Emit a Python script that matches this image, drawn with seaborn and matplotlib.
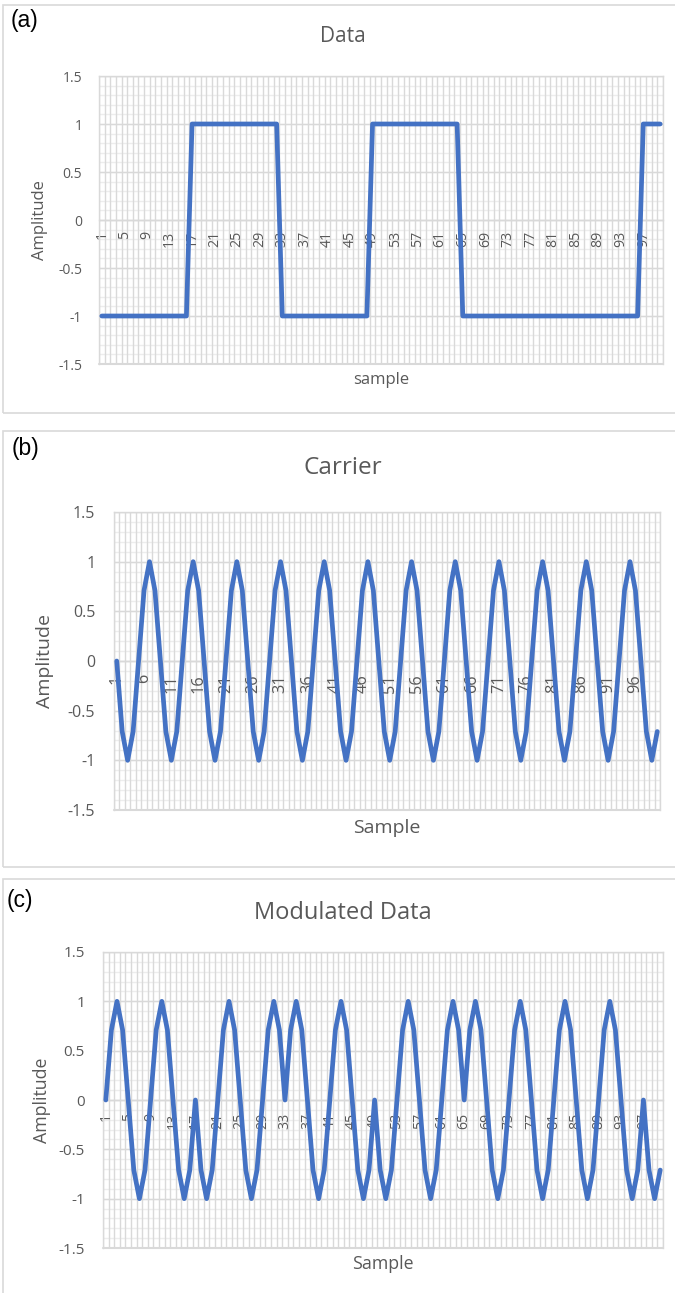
import numpy as np
import pandas as pd
import matplotlib
matplotlib.use("Agg")
import matplotlib.pyplot as plt
from matplotlib.patches import Rectangle
import seaborn as sns

sns.set_theme(style="white")
plt.rcParams['font.family'] = ['Open Sans', 'DejaVu Sans']

# ---------------- 数据 ----------------
sample = list(range(1, 101))

data = [
    -1, -1, -1, -1, -1, -1, -1, -1,
    -1, -1, -1, -1, -1, -1, -1, -1,
    1, 1, 1, 1, 1, 1, 1, 1,
    1, 1, 1, 1, 1, 1, 1, 1,
    -1, -1, -1, -1, -1, -1, -1, -1,
    -1, -1, -1, -1, -1, -1, -1, -1,
    1, 1, 1, 1, 1, 1, 1, 1,
    1, 1, 1, 1, 1, 1, 1, 1,
    -1, -1, -1, -1, -1, -1, -1, -1,
    -1, -1, -1, -1, -1, -1, -1, -1,
    -1, -1, -1, -1, -1, -1, -1, -1,
    -1, -1, -1, -1, -1, -1, -1, -1,
    1, 1, 1, 1,
]

carrier = [
    0, -0.71, -1, -0.71, 0, 0.71, 1, 0.71,
    0, -0.71, -1, -0.71, 0, 0.71, 1, 0.71,
    0, -0.71, -1, -0.71, 0, 0.71, 1, 0.71,
    0, -0.71, -1, -0.71, 0, 0.71, 1, 0.71,
    0, -0.71, -1, -0.71, 0, 0.71, 1, 0.71,
    0, -0.71, -1, -0.71, 0, 0.71, 1, 0.71,
    0, -0.71, -1, -0.71, 0, 0.71, 1, 0.71,
    0, -0.71, -1, -0.71, 0, 0.71, 1, 0.71,
    0, -0.71, -1, -0.71, 0, 0.71, 1, 0.71,
    0, -0.71, -1, -0.71, 0, 0.71, 1, 0.71,
    0, -0.71, -1, -0.71, 0, 0.71, 1, 0.71,
    0, -0.71, -1, -0.71, 0, 0.71, 1, 0.71,
    0, -0.71, -1, -0.71,
]

modulated = [
    0, 0.71, 1, 0.71, 0, -0.71, -1, -0.71,
    0, 0.71, 1, 0.71, 0, -0.71, -1, -0.71,
    0, -0.71, -1, -0.71, 0, 0.71, 1, 0.71,
    0, -0.71, -1, -0.71, 0, 0.71, 1, 0.71,
    0, 0.71, 1, 0.71, 0, -0.71, -1, -0.71,
    0, 0.71, 1, 0.71, 0, -0.71, -1, -0.71,
    0, -0.71, -1, -0.71, 0, 0.71, 1, 0.71,
    0, -0.71, -1, -0.71, 0, 0.71, 1, 0.71,
    0, 0.71, 1, 0.71, 0, -0.71, -1, -0.71,
    0, 0.71, 1, 0.71, 0, -0.71, -1, -0.71,
    0, 0.71, 1, 0.71, 0, -0.71, -1, -0.71,
    0, 0.71, 1, 0.71, 0, -0.71, -1, -0.71,
    0, -0.71, -1, -0.71,
]

y_ticks = [-1.5, -1, -0.5, 0, 0.5, 1, 1.5]
y_tick_labels = ['-1.5', '-1', '-0.5', '0', '0.5', '1', '1.5']

# ---------------- 样式 ----------------
W, H = 675, 1293
BLUE = '#4472C4'
GREY_TXT = '#595959'
GRID = '#D9D9D9'
GRID_MINOR = '#EDEDED'

fig = plt.figure(figsize=(W / 100, H / 100), dpi=100)


def px_axes(left, top, right, bottom):
    return fig.add_axes([left / W, 1 - bottom / H, (right - left) / W, (bottom - top) / H])


def chart_box(top, bottom):
    fig.patches.append(Rectangle((3 / W, 1 - bottom / H), (W + 10) / W, (bottom - top) / H,
                                 transform=fig.transFigure, fill=False,
                                 edgecolor=GRID, linewidth=1.2))


def draw_panel(ax, values, step, title, title_y, xlabel, letter, letter_xy,
               fs_tick, fs_xtick, fs_lab, fs_title, ytick_pad, xtick_pad,
               xlab_y, ylab_x):
    df = pd.DataFrame({'sample': sample, 'value': values})
    sns.lineplot(data=df, x='sample', y='value', ax=ax, color=BLUE, linewidth=3.4,
                 solid_joinstyle='round', solid_capstyle='round', zorder=5)

    # 横轴标签放在 y=0 处 (先移动 spine, 否则会重置刻度)
    for side in ['left', 'right', 'top', 'bottom']:
        ax.spines[side].set_color(GRID)
        ax.spines[side].set_linewidth(1.0)
    ax.spines['bottom'].set_position(('data', 0))

    ax.set_xlim(0.5, 100.5)
    ax.set_ylim(-1.5, 1.5)
    ax.set_yticks(y_ticks)
    ax.set_yticklabels(y_tick_labels)
    ax.set_xticks(sample[::step])
    ax.set_xticklabels([str(s) for s in sample[::step]])

    # 网格线放在刻度标签下面
    ax.grid(False)
    ax.set_axisbelow(True)
    minor_y = np.round(np.arange(-1.5, 1.51, 0.1), 2)
    ax.hlines(minor_y, 0.5, 100.5, color=GRID_MINOR, linewidth=1.0, zorder=0.1)
    ax.hlines(y_ticks, 0.5, 100.5, color=GRID, linewidth=1.0, zorder=0.2)
    bounds = [s - 0.5 for s in sample] + [100.5]
    ax.vlines(bounds, -1.5, 1.5, color=GRID, linewidth=1.0, zorder=0.2)

    ax.tick_params(axis='both', which='both', length=0)
    ax.tick_params(axis='y', labelsize=fs_tick, labelcolor=GREY_TXT, pad=ytick_pad)
    ax.tick_params(axis='x', labelsize=fs_xtick, labelcolor=GREY_TXT, pad=xtick_pad,
                   labelrotation=90)
    ax.axhline(-1.5, color=GRID, linewidth=1.5, clip_on=False, zorder=1)

    ax.set_xlabel(xlabel, fontsize=fs_lab, color=GREY_TXT, va='center')
    ax.xaxis.set_label_coords(0.5, xlab_y)
    ax.set_ylabel('Amplitude', fontsize=fs_lab, color=GREY_TXT, va='center')
    ax.yaxis.set_label_coords(ylab_x, 0.5)

    fig.text(343 / W, 1 - title_y / H, title, ha='center', va='center',
             fontsize=fs_title, color=GREY_TXT)
    fig.text(letter_xy[0] / W, 1 - letter_xy[1] / H, letter, ha='left', va='center',
             fontsize=16.5, color='black', family=['Liberation Sans', 'DejaVu Sans'])


# (a) Data
chart_box(5, 413)
ax_a = px_axes(99, 76, 663, 364)
draw_panel(ax_a, data, 4, 'Data', 37, 'sample', '(a)', (11, 21),
           fs_tick=10, fs_xtick=10.2, fs_lab=12, fs_title=15,
           ytick_pad=12, xtick_pad=8, xlab_y=-0.056, ylab_x=-0.105)

# (b) Carrier
chart_box(431, 867)
ax_b = px_axes(114, 512, 660, 810)
draw_panel(ax_b, carrier, 5, 'Carrier', 468, 'Sample', '(b)', (12, 449),
           fs_tick=11.5, fs_xtick=11.8, fs_lab=14, fs_title=17.5,
           ytick_pad=13.5, xtick_pad=9.5, xlab_y=-0.06, ylab_x=-0.126)

# (c) Modulated Data
chart_box(879, 1310)
ax_c = px_axes(103, 952, 663, 1248)
draw_panel(ax_c, modulated, 4, 'Modulated Data', 913, 'Sample', '(c)', (7, 901),
           fs_tick=11, fs_xtick=10.2, fs_lab=12.8, fs_title=17,
           ytick_pad=13, xtick_pad=9, xlab_y=-0.054, ylab_x=-0.109)

fig.savefig('out.png', dpi=100)
